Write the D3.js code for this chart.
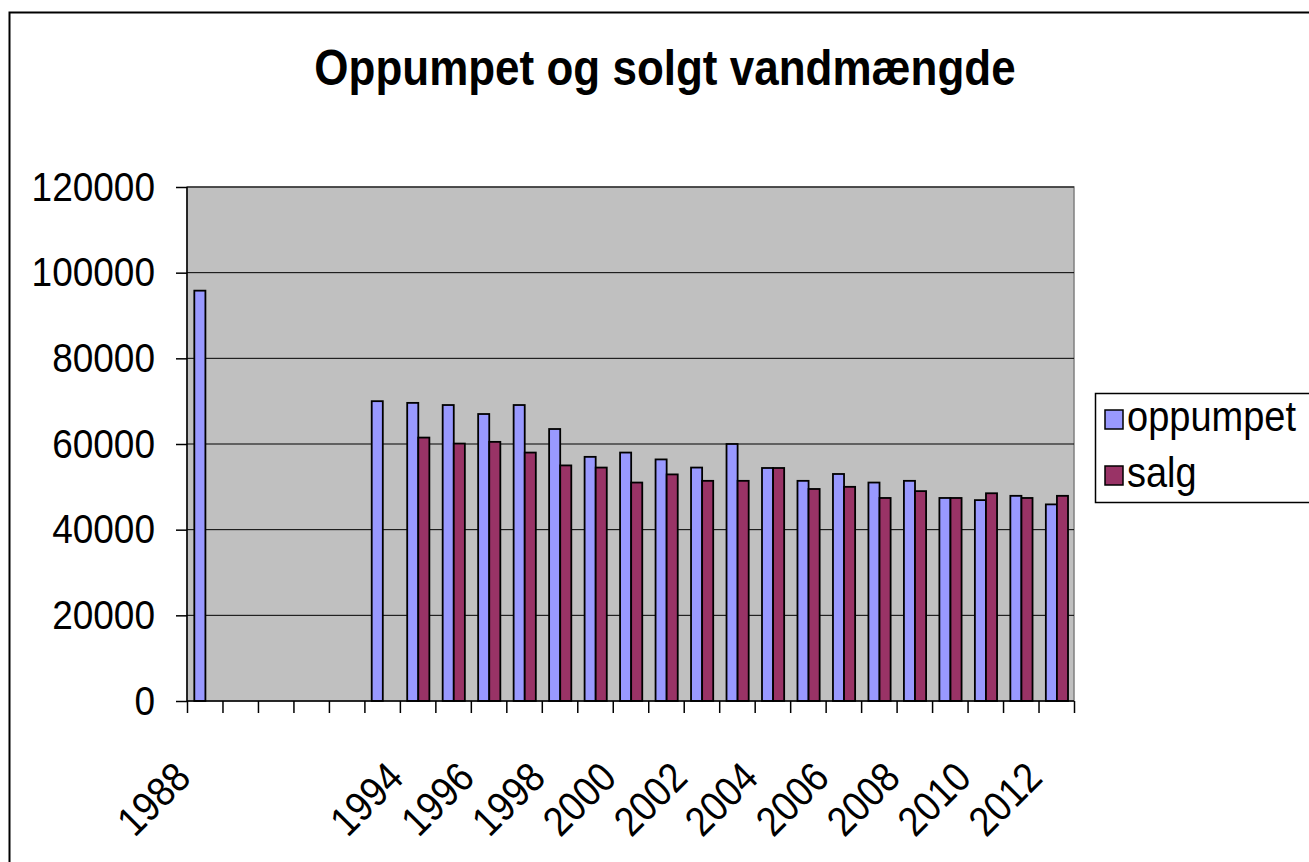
<!DOCTYPE html>
<meta charset="utf-8">
<style>
body { margin: 0; background: white; }
text { font-family: "Liberation Sans", Arial, sans-serif; fill: black; }
.grid line { stroke: black; stroke-width: 1px; }
.bar { stroke: black; stroke-width: 1.8px; }
</style>
<body>
<script src="https://d3js.org/d3.v7.min.js"></script>
<script>
var width = 1309,
    height = 862;

// categories (1989-1992 have no data)
var years = d3.range(1988, 2013);
var tickLabels = ["1988", "1994", "1996", "1998", "2000", "2002", "2004", "2006", "2008", "2010", "2012"];
var seriesNames = ["oppumpet", "salg"];
var colors = ["#9999ff", "#993366"];

var oppumpet = [95800, null, null, null, null, 70000, 69600, 69100, 67000, 69100,
                63500, 57000, 58000, 56400, 54500, 60000, 54400, 51400, 53000, 51000,
                51400, 47400, 46900, 47900, 45900];
var salg = [null, null, null, null, null, null, 61500, 60100, 60500, 58000,
            55000, 54500, 51000, 52900, 51400, 51400, 54400, 49500, 50000, 47400,
            49000, 47400, 48500, 47400, 47900];

var yTicks = [0, 20000, 40000, 60000, 80000, 100000, 120000];

var pLeft = 187, pRight = 1074, pTop = 187, pBottom = 701;
var stretch = "scale(1,1.12)"; // the original font is a bit taller than Arial

var svg = d3.select("body").append("svg")
    .attr("width", width)
    .attr("height", height);

// outer chart border
svg.append("rect")
    .attr("x", 9.5).attr("y", 12.5)
    .attr("width", 1400).attr("height", 900)
    .attr("fill", "white")
    .attr("stroke", "black").attr("stroke-width", 2);

svg.append("text")
    .attr("transform", "translate(665,85) " + stretch)
    .attr("text-anchor", "middle")
    .style("font-size", "44px")
    .style("font-weight", "bold")
    .text("Oppumpet og solgt vandmængde");

var x0 = d3.scaleBand()
    .domain(years)
    .range([pLeft, pRight]);

var x1 = d3.scaleBand()
    .domain(seriesNames)
    .range([0, x0.bandwidth()])
    .paddingOuter(0.6)
    .align(0.55);

var y = d3.scaleLinear()
    .domain([0, 120000])
    .range([pBottom, pTop]);

// plot area
svg.append("rect")
    .attr("x", pLeft).attr("y", pTop)
    .attr("width", pRight - pLeft).attr("height", pBottom - pTop)
    .attr("fill", "#c0c0c0")
    .attr("stroke", "#808080").attr("stroke-width", 1.5);

svg.append("g")
    .attr("class", "grid")
    .selectAll("line")
    .data(yTicks.slice(1))
    .enter().append("line")
    .attr("x1", pLeft).attr("x2", pRight)
    .attr("y1", function(d) { return y(d); })
    .attr("y2", function(d) { return y(d); });

// bars
var series = [oppumpet, salg];
series.forEach(function(vals, s) {
    svg.append("g")
      .selectAll("rect")
      .data(years.map(function(yr, i) { return {year: yr, value: vals[i]}; })
                 .filter(function(d) { return d.value != null; }))
      .enter().append("rect")
      .attr("class", "bar")
      .attr("fill", colors[s])
      .attr("x", function(d) { return x0(d.year) + x1(seriesNames[s]); })
      .attr("width", x1.bandwidth())
      .attr("y", function(d) { return y(d.value); })
      .attr("height", function(d) { return y(0) - y(d.value); });
});

// y axis
var yAxis = svg.append("g")
    .attr("transform", "translate(" + pLeft + ",0)")
    .call(d3.axisLeft(y).tickValues(yTicks).tickSize(11).tickPadding(21).tickFormat(d3.format("d")));
yAxis.selectAll("text")
    .style("font-size", "37px")
    .attr("transform", stretch);
yAxis.selectAll("line, path").attr("stroke", "black").attr("stroke-width", 1.5);
yAxis.select(".domain").attr("d", "M0," + pTop + "V" + pBottom);

// x axis: ticks on category boundaries
var xb = d3.scaleLinear().domain([0, years.length]).range([pLeft, pRight]);
var xAxis = svg.append("g")
    .attr("transform", "translate(0," + pBottom + ")")
    .call(d3.axisBottom(xb).ticks(years.length).tickSize(12).tickFormat(""));
xAxis.selectAll("line, path").attr("stroke", "black").attr("stroke-width", 1.5);
xAxis.select(".domain").attr("d", "M" + pLeft + ",0H" + pRight);

// x labels
var xLab = svg.append("g")
    .attr("transform", "translate(0," + pBottom + ")")
    .call(d3.axisBottom(x0)
        .tickValues(years.filter(function(d) { return tickLabels.indexOf(String(d)) >= 0; }))
        .tickSize(0));
xLab.select(".domain").remove();
xLab.selectAll("text")
    .attr("x", 0).attr("y", 0).attr("dy", 0)
    .attr("text-anchor", "end")
    .attr("transform", "translate(-12,79) rotate(-45) " + stretch)
    .style("font-size", "37px");

// legend
var legend = svg.append("g");
legend.append("rect")
    .attr("x", 1095.5).attr("y", 393.5)
    .attr("width", 300).attr("height", 109)
    .attr("fill", "white")
    .attr("stroke", "black").attr("stroke-width", 1.5);

seriesNames.forEach(function(name, i) {
    var g = legend.append("g")
        .attr("transform", "translate(1105," + (410 + i * 56) + ")");
    g.append("rect")
        .attr("width", 18).attr("height", 19)
        .attr("fill", colors[i])
        .attr("stroke", "black").attr("stroke-width", 1.5);
    g.append("text")
        .attr("transform", "translate(22,21) " + stretch)
        .style("font-size", "38px")
        .text(name);
});
</script>
</body>
